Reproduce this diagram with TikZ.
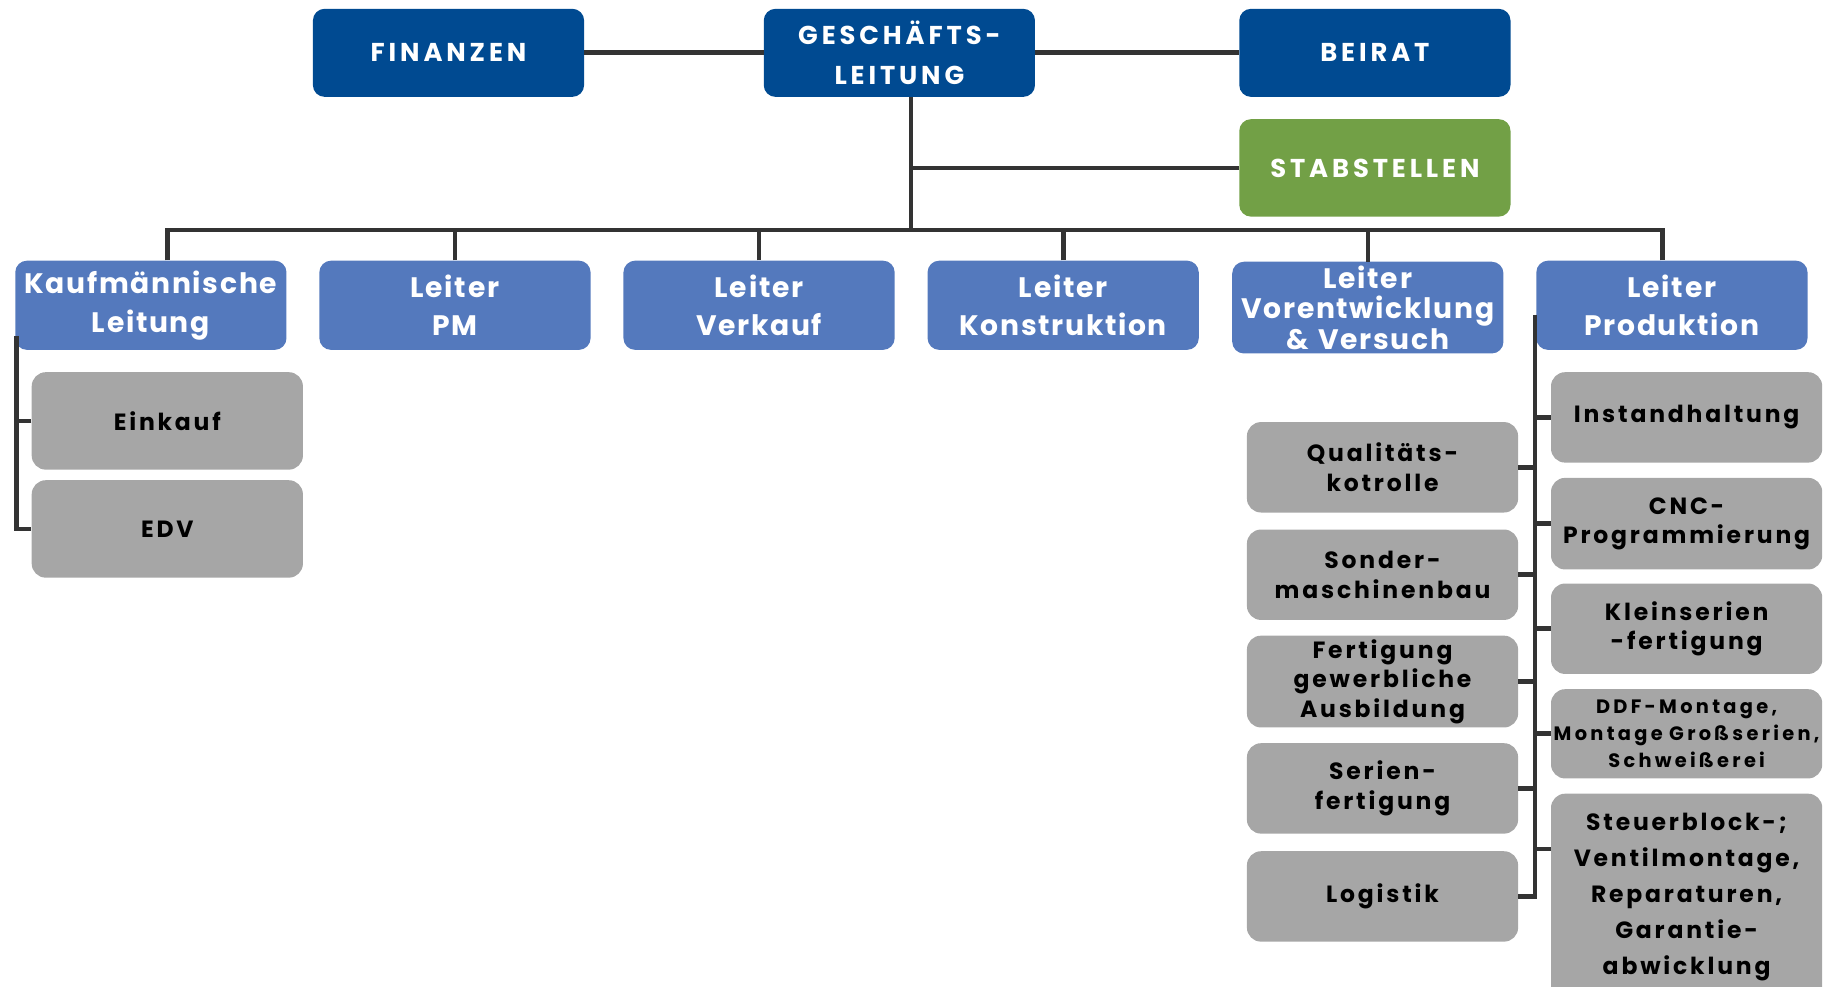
\documentclass[tikz,border=0pt]{standalone}
\usepackage{fontspec}
\setmainfont{Poppins}
\newfontfamily\capsfont{Poppins}[LetterSpace=15]
\newfontfamily\leadfont{Poppins}[LetterSpace=6]
\newfontfamily\unitfont{Poppins}[LetterSpace=12]
\newfontfamily\smallunitfont{Poppins}[LetterSpace=17]
\definecolor{GL}{HTML}{004A91}
\definecolor{LT}{HTML}{5479BD}
\definecolor{ST}{HTML}{72A046}
\definecolor{AB}{HTML}{A6A6A6}
\definecolor{LN}{HTML}{333333}
\tikzset{
  topbox/.style={fill=GL, rounded corners=10pt, minimum width=231pt, minimum height=75pt,
    inner xsep=0pt, text width=231pt, align=center, text=white,
    font=\capsfont\bfseries\fontsize{22}{34}\selectfont},
  leadbox/.style={fill=LT, rounded corners=10pt, minimum width=231pt, minimum height=76pt,
    inner xsep=0pt, text width=231pt, align=center, text=white,
    font=\leadfont\bfseries\fontsize{24}{33}\selectfont},
  unitbox/.style={fill=AB, rounded corners=12pt, minimum width=231pt, minimum height=77pt,
    inner xsep=0pt, text width=231pt, align=center, text=black,
    font=\unitfont\bfseries\fontsize{20}{25}\selectfont},
  link/.style={draw=LN, line width=4pt},
}
\begin{document}
\begin{tikzpicture}[x=1pt,y=-1pt]
\useasboundingbox (0,0) rectangle (1568,840);
% oberste Ebene
\node[topbox] (fin) at (382,45) {FINANZEN};
\node[topbox] (gl) at (766,45) {GESCHÄFTS-\\LEITUNG};
\node[topbox] (beirat) at (1171,45) {BEIRAT};
\node[topbox, fill=ST, minimum height=83pt] (stab) at (1171,143) {STABSTELLEN};
% Leiter
\node[leadbox] (kfm) at (128.5,260) {Kaufmännische\\Leitung};
\node[leadbox] (pm) at (387.5,260) {Leiter\\PM};
\node[leadbox] (vk) at (646.5,260) {Leiter\\Verkauf};
\node[leadbox] (ko) at (905.5,260) {Leiter\\Konstruktion};
\node[leadbox, font=\leadfont\bfseries\fontsize{24}{26}\selectfont] (ve) at (1165,262) {Leiter\\Vorentwicklung\\\& Versuch};
\node[leadbox] (pr) at (1424,260) {Leiter\\Produktion};
% Abteilungen
\node[unitbox, minimum height=83pt] (ein) at (142.5,358.5) {Einkauf};
\node[unitbox, minimum height=83pt] (edv) at (142.5,450.5) {EDV};
\node[unitbox] (qk) at (1177.5,398) {Qualitäts-\\kotrolle};
\node[unitbox] (sm) at (1177.5,489.5) {Sonder-\\maschinenbau};
\node[unitbox] (fa) at (1177.5,580.5) {Fertigung\\gewerbliche\\Ausbildung};
\node[unitbox] (sf) at (1177.5,671.5) {Serien-\\fertigung};
\node[unitbox] (lg) at (1177.5,763.5) {Logistik};
\node[unitbox] (ih) at (1436.5,355.5) {Instandhaltung};
\node[unitbox, minimum height=78pt] (cnc) at (1436.5,446) {CNC-\\Programmierung};
\node[unitbox] (ks) at (1436.5,535.5) {Kleinserien\\-fertigung};
\node[unitbox, minimum height=76pt, font=\smallunitfont\bfseries\fontsize{16.5}{23}\selectfont] (ddf) at (1436.5,625) {DDF-Montage,\\Montage Großserien,\\Schweißerei};
\node[unitbox, minimum height=176pt, font=\unitfont\bfseries\fontsize{20}{30.5}\selectfont] (sb) at (1436.5,764) {Steuerblock-;\\Ventilmontage,\\Reparaturen,\\Garantie-\\abwicklung};
% Linien
\coordinate (bus) at (776,196);
\draw[link] (fin) -- (gl);
\draw[link] (gl) -- (beirat);
\draw[link] ([xshift=10pt]gl.south) -- (bus);
\draw[link] (stab.west) -- (stab.west -| bus);
\draw[link] ([xshift=14pt]kfm.north) |- (bus);
\draw[link] ([xshift=-8pt]pr.north) |- (bus);
\foreach \n in {pm,vk,ko,ve}
  \draw[link] (\n.north) -- (\n.north |- bus);
\coordinate (kv) at ([xshift=1pt,yshift=12pt]kfm.south west);
\draw[link] (kv) |- (edv.west);
\draw[link] (ein.west) -- (ein.west -| kv);
\coordinate (pv) at ([xshift=-1pt,yshift=-8pt]pr.west);
\draw[link] (pv) |- (lg.east);
\foreach \n in {qk,sm,fa,sf}
  \draw[link] (\n.east) -- (\n.east -| pv);
\foreach \n in {ih,cnc,ks,ddf}
  \draw[link] (\n.west) -- (\n.west -| pv);
\draw[link] ([yshift=41pt]sb.west) -- ([yshift=41pt]sb.west -| pv);
\end{tikzpicture}
\end{document}
